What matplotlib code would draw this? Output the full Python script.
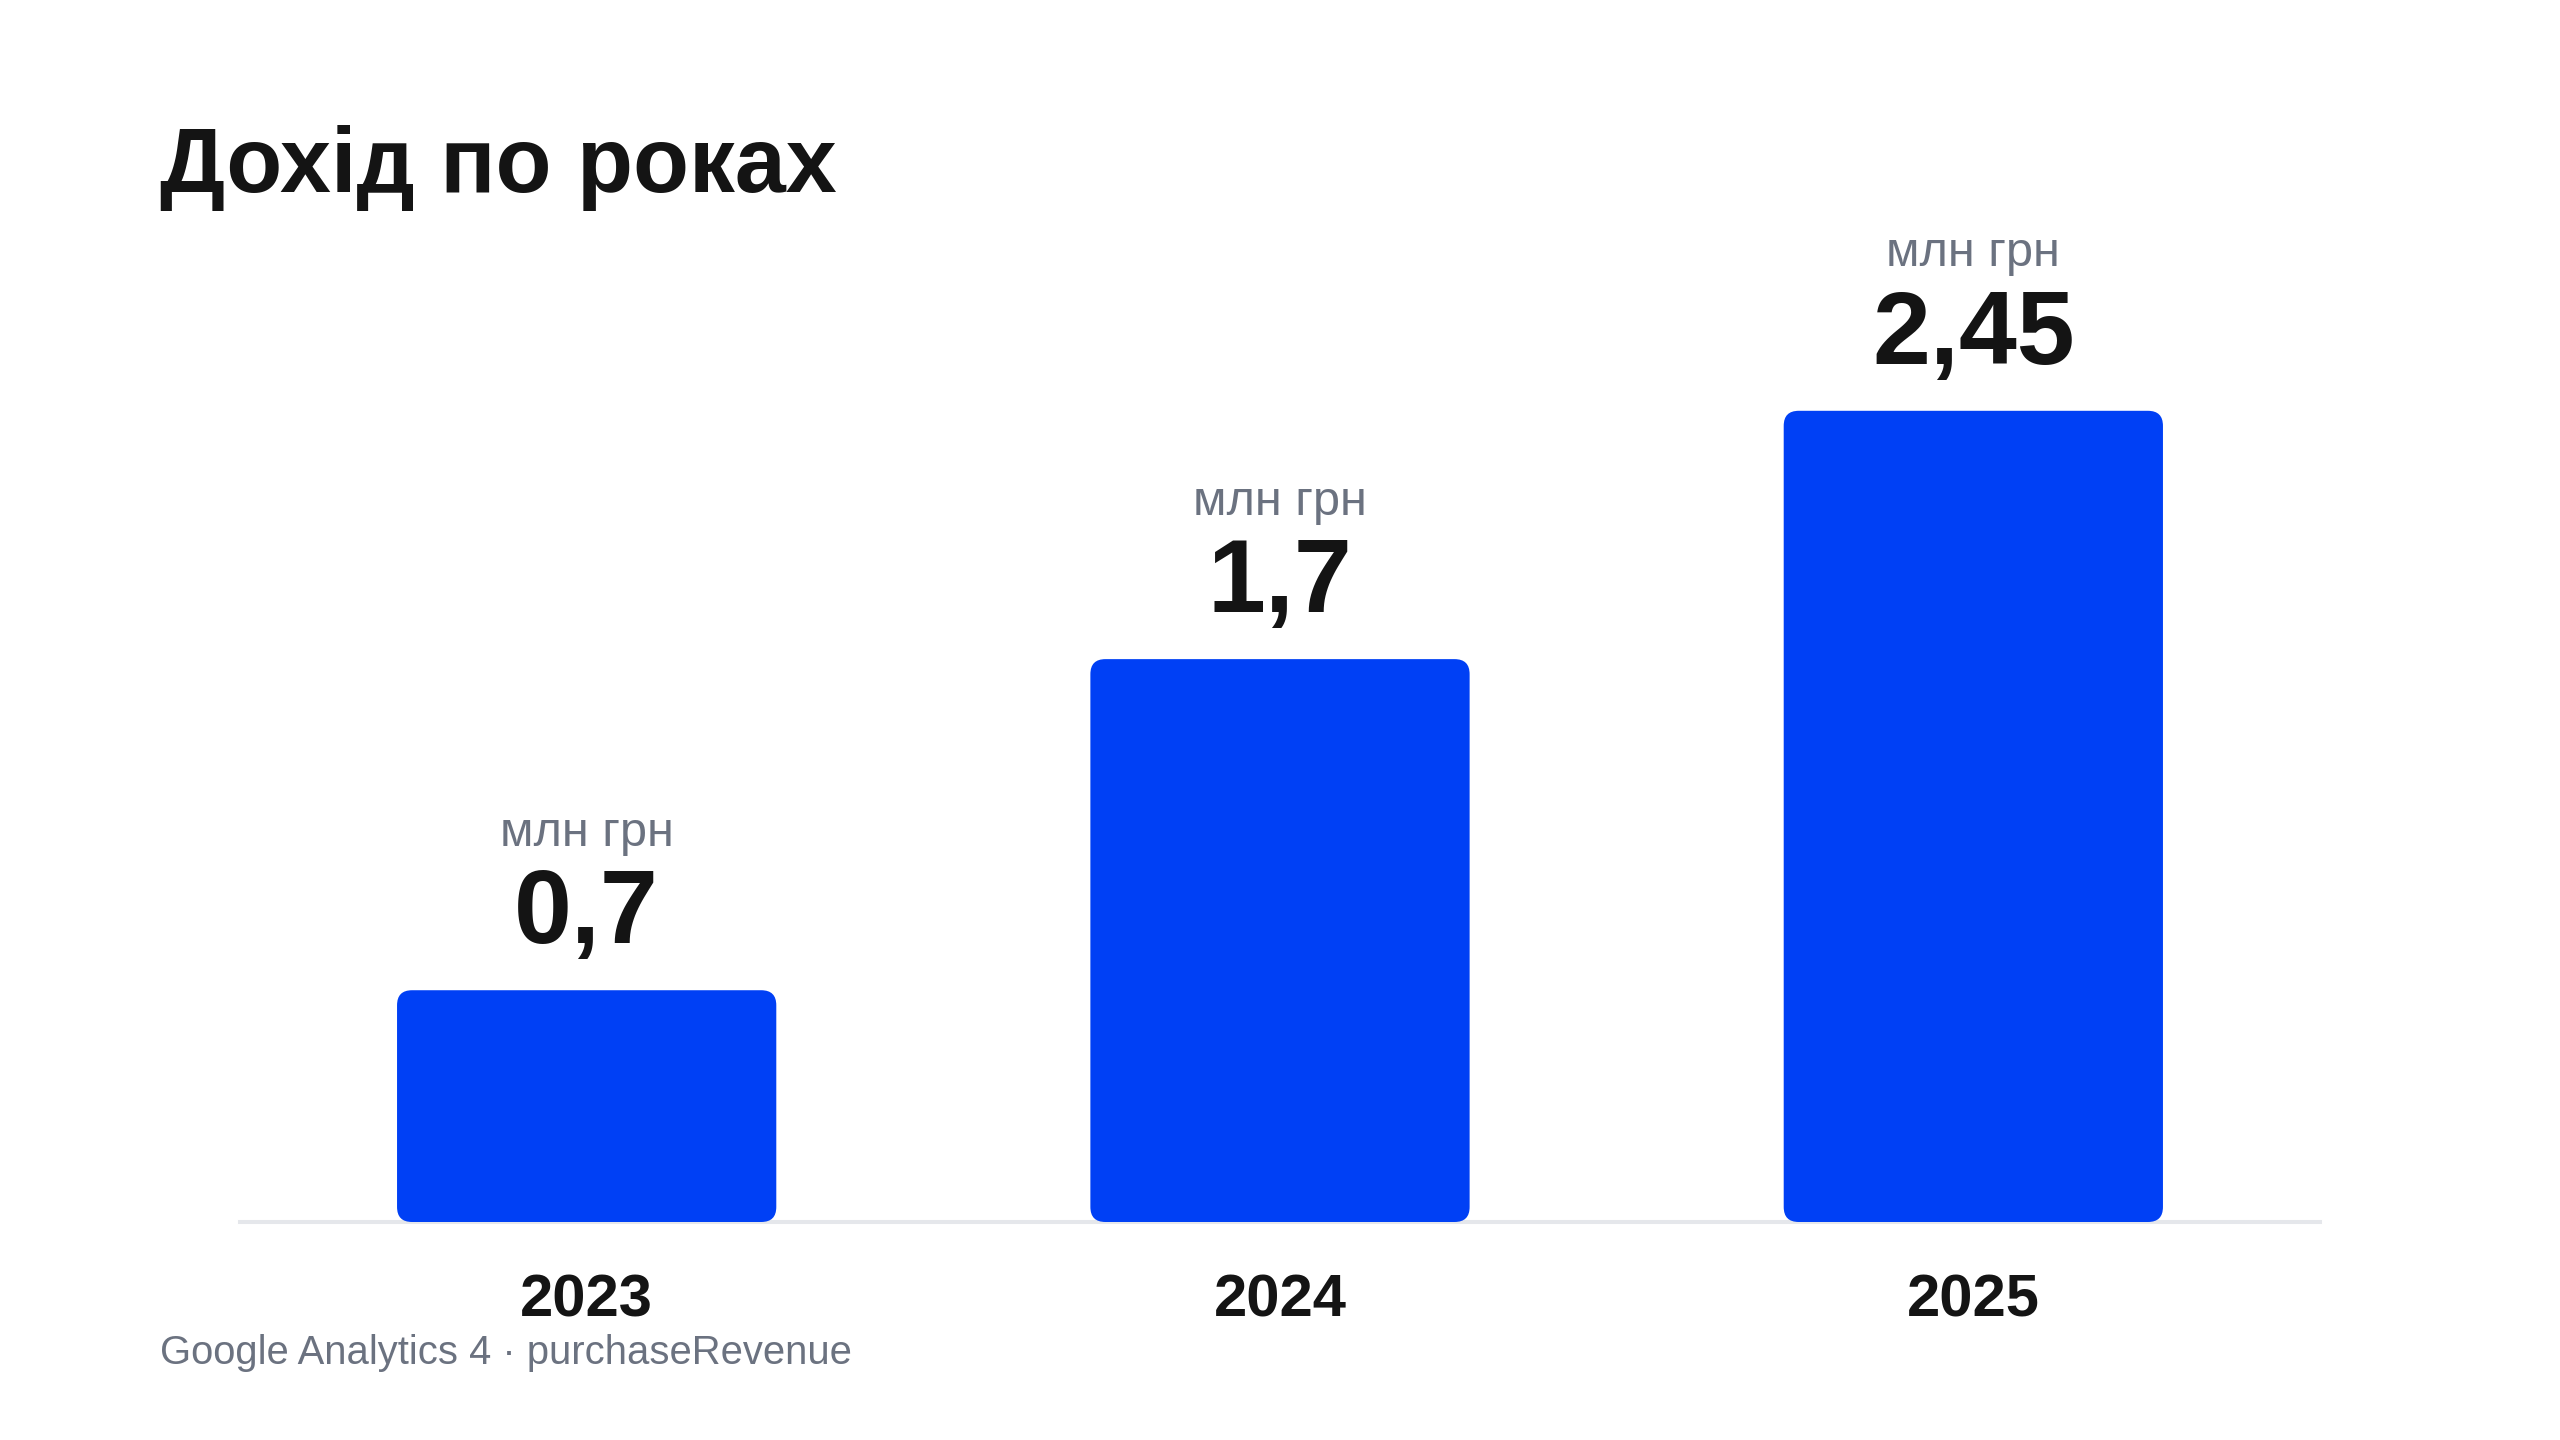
import matplotlib
matplotlib.use("Agg")
import matplotlib.pyplot as plt
from matplotlib.patches import FancyBboxPatch

# data
years = ["2023", "2024", "2025"]
revenue = [0.7, 1.7, 2.45]
value_labels = ["0,7", "1,7", "2,45"]
unit_label = "млн грн"
title = "Дохід по роках"
source = "Google Analytics 4 · purchaseRevenue"

BLUE = "#0040F5"
DARK = "#141414"
GRAY = "#6B7280"
FONT = ["Liberation Sans", "DejaVu Sans"]

plt.rcParams["font.family"] = FONT

YMAX = 2.99

fig = plt.figure(figsize=(25.6, 14.4), dpi=100)
ax = fig.add_axes([240 / 2560, 1 - 1222 / 1440, 2080 / 2560, 990 / 1440])
ax.set_xlim(-0.5, len(years) - 0.5)
ax.set_ylim(0, YMAX)

# pixel size of one data unit, so the rounded corners stay round
px_x = 2080 / (len(years))
px_y = 990 / YMAX
radius_px = 15
bar_w = 0.547

for i, v in enumerate(revenue):
    patch = FancyBboxPatch(
        (i - bar_w / 2, 0), bar_w, v,
        boxstyle="round,pad=0,rounding_size=%f" % (radius_px / px_x),
        mutation_aspect=px_x / px_y,
        facecolor=BLUE, edgecolor="none", zorder=3)
    ax.add_patch(patch)
    ax.annotate(value_labels[i], (i, v), xytext=(0, 34), textcoords="offset points",
                ha="center", va="baseline", fontsize=75, fontweight="bold",
                color=DARK, annotation_clip=False)
    ax.annotate(unit_label, (i, v), xytext=(0, 104), textcoords="offset points",
                ha="center", va="baseline", fontsize=35, color=GRAY,
                annotation_clip=False)
    ax.annotate(years[i], (i, 0), xytext=(0, -68), textcoords="offset points",
                ha="center", va="baseline", fontsize=43, fontweight="bold",
                color=DARK, annotation_clip=False)

for s in ["top", "left", "right"]:
    ax.spines[s].set_visible(False)
ax.spines["bottom"].set_color("#E5E7EB")
ax.spines["bottom"].set_linewidth(2.9)
ax.spines["bottom"].set_zorder(1)
ax.set_xticks([])
ax.set_yticks([])
ax.patch.set_alpha(0)

fig.text(160 / 2560, 1 - 192 / 1440, title, fontsize=66, fontweight="bold",
         color=DARK, ha="left", va="baseline")
fig.text(160 / 2560, 1 - 1364 / 1440, source, fontsize=28.8, color=GRAY,
         ha="left", va="baseline")

fig.savefig("out.png", dpi=100, facecolor="white")
